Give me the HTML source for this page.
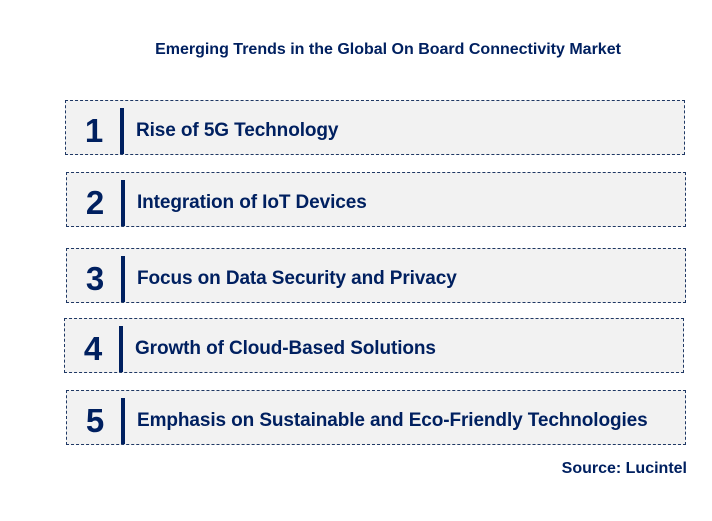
<!DOCTYPE html>
<html><head><style>
body{margin:0;width:712px;height:521px;background:#fff;font-family:"Liberation Sans",Arial,sans-serif;position:relative;overflow:hidden;color:#002060}
.t{position:absolute;top:41px;left:0;width:776px;text-align:center;font-weight:bold;font-size:16px}
.b{position:absolute;width:618px;height:53px;border:1px dashed #1f3864;background:#f2f2f2}
.n{position:absolute;left:16px;width:24px;text-align:center;top:11px;font-size:33px;font-weight:bold}
.bar{position:absolute;left:54px;top:7px;width:4px;height:46px;background:#002060}
.x{position:absolute;left:70px;top:19px;font-size:19px;font-weight:bold;white-space:nowrap;letter-spacing:-0.1px}
.s{position:absolute;right:25px;top:460px;font-size:16px;font-weight:bold}
</style></head><body>
<div class="t">Emerging Trends in the Global On Board Connectivity Market</div>
<div class="b" style="left:65px;top:100px"><div class="n">1</div><div class="bar"></div><div class="x" style="left:70px">Rise of 5G Technology</div></div>
<div class="b" style="left:66px;top:172px"><div class="n">2</div><div class="bar"></div><div class="x">Integration of IoT Devices</div></div>
<div class="b" style="left:66px;top:248px"><div class="n">3</div><div class="bar"></div><div class="x">Focus on Data Security and Privacy</div></div>
<div class="b" style="left:64px;top:318px"><div class="n">4</div><div class="bar"></div><div class="x">Growth of Cloud-Based Solutions</div></div>
<div class="b" style="left:66px;top:390px"><div class="n">5</div><div class="bar"></div><div class="x">Emphasis on Sustainable and Eco-Friendly Technologies</div></div>
<div class="s">Source: Lucintel</div>
</body></html>
